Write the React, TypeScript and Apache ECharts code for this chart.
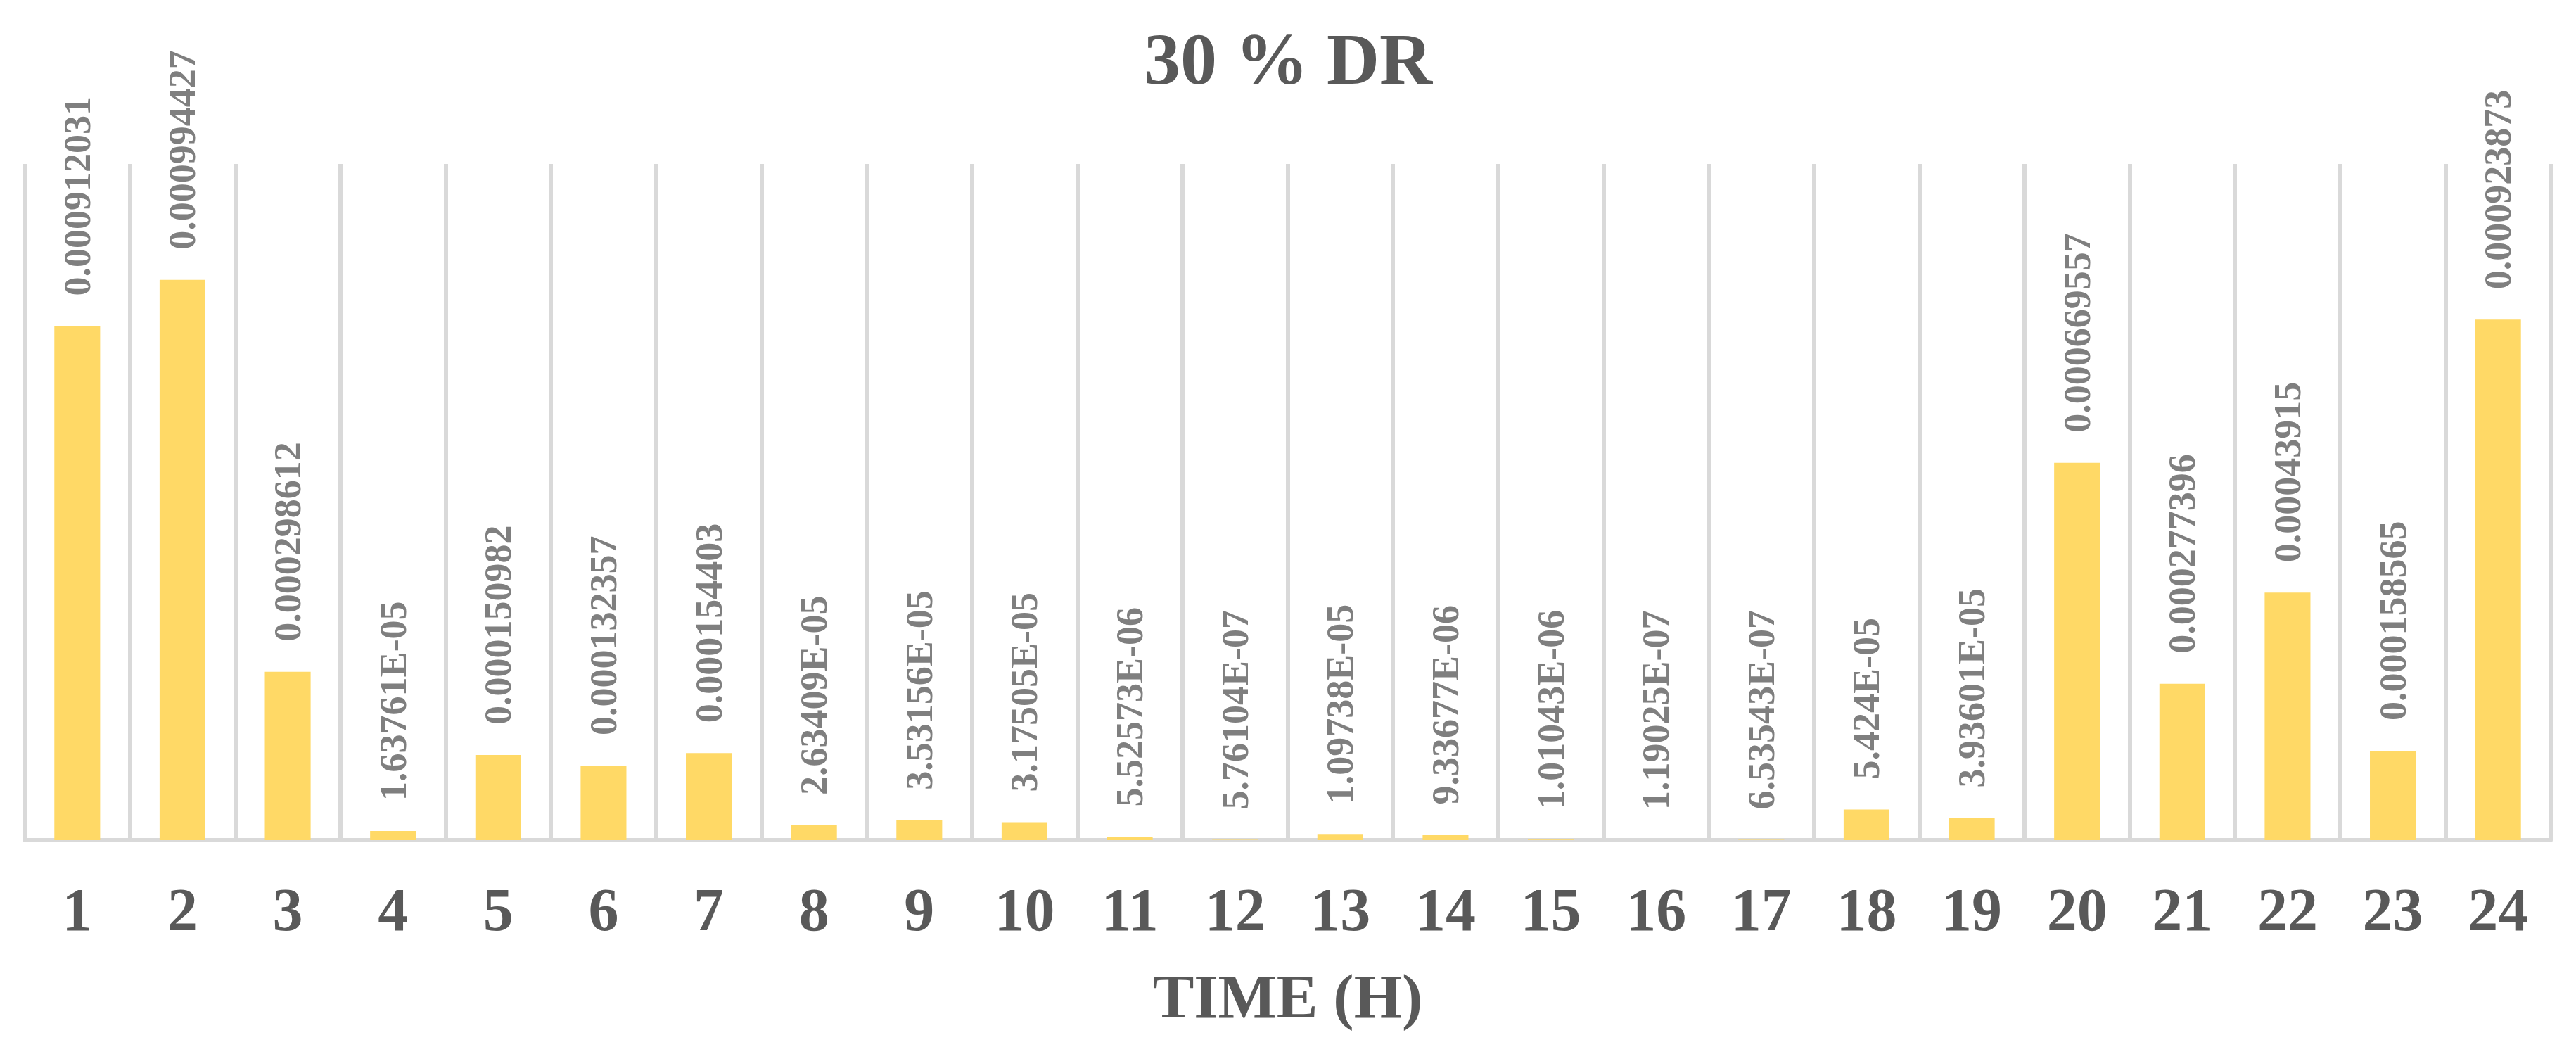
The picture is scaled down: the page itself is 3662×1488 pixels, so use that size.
import React, { useEffect, useRef } from "react";
import * as echarts from "echarts";

const categories = ["1","2","3","4","5","6","7","8","9","10","11","12","13","14","15","16","17","18","19","20","21","22","23","24"];
const values = [
  0.000912031, 0.000994427, 0.000298612, 1.63761e-5, 0.000150982, 0.000132357,
  0.000154403, 2.63409e-5, 3.53156e-5, 3.17505e-5, 5.52573e-6, 5.76104e-7,
  1.09738e-5, 9.33677e-6, 1.01043e-6, 1.19025e-7, 6.53543e-7, 5.424e-5,
  3.93601e-5, 0.000669557, 0.000277396, 0.00043915, 0.000158565, 0.000923873,
];
const titleText = "30 % DR";
const axisName = "TIME (H)";

function excelFormat(v: number): string {
  if (v >= 1e-4) {
    let s = v.toPrecision(6);
    if (s.indexOf(".") >= 0) s = s.replace(/0+$/, "").replace(/\.$/, "");
    return s;
  }
  const e = v.toExponential(5);
  const [m, ex] = e.split("e");
  let mant = m.indexOf(".") >= 0 ? m.replace(/0+$/, "").replace(/\.$/, "") : m;
  const n = parseInt(ex, 10);
  const sign = n < 0 ? "-" : "+";
  const abs = Math.abs(n);
  return mant + "E" + sign + (abs < 10 ? "0" + abs : String(abs));
}

export default function App() {
  const ref = useRef<HTMLDivElement>(null);
  useEffect(() => {
    if (!ref.current) return;
    const chart = echarts.init(ref.current, undefined, { renderer: "svg" });
    const serif = "'Liberation Serif', 'Times New Roman', serif";
    chart.setOption({
      animation: false,
      backgroundColor: "#ffffff",
      title: {
        text: titleText,
        left: "center",
        top: 26,
        textStyle: { fontFamily: serif, fontWeight: "bold", fontSize: 104, color: "#595959" },
      },
      grid: { left: 35, right: 36, top: 233, bottom: 294, containLabel: false },
      xAxis: {
        type: "category",
        data: categories,
        name: axisName,
        nameLocation: "middle",
        nameGap: 178,
        nameTextStyle: { fontFamily: serif, fontWeight: "bold", fontSize: 88, color: "#595959" },
        axisLine: { show: true, lineStyle: { color: "#d9d9d9", width: 6 } },
        axisTick: { show: false },
        axisLabel: { fontFamily: serif, fontWeight: "bold", fontSize: 86, color: "#595959", margin: 56, interval: 0 },
        splitLine: { show: true, interval: 0, lineStyle: { color: "#d9d9d9", width: 6 } },
      },
      yAxis: {
        type: "value",
        min: 0,
        max: 0.0012,
        show: false,
        splitLine: { show: false },
      },
      series: [
        {
          type: "bar",
          data: values,
          barWidth: "43.5%",
          itemStyle: { color: "#FFD966" },
          label: {
            show: true,
            position: "top",
            rotate: 90,
            align: "left",
            verticalAlign: "middle",
            distance: 43,
            fontFamily: serif,
            fontWeight: "bold",
            fontSize: 54,
            color: "#7f7f7f",
            formatter: (p: any) => excelFormat(p.value),
          },
        },
      ],
    });
    return () => chart.dispose();
  }, []);
  return (
    <div
      ref={ref}
      style={{ position: "fixed", left: 0, top: 0, width: 3662, height: 1488, background: "#fff" }}
    />
  );
}
